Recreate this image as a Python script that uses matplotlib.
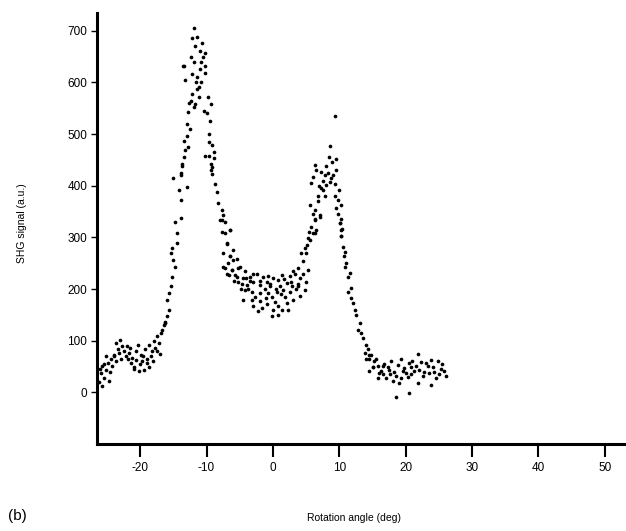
import numpy as np
import matplotlib
matplotlib.use('Agg')
import matplotlib.pyplot as plt

plt.rcParams['font.family'] = ['Liberation Sans', 'DejaVu Sans']
plt.rcParams['axes.unicode_minus'] = False

# left baseline, -26 .. -16 deg
base_left_x = [-25.9, -25.7, -25.4, -24.9, -25.2, -24.7, -24.4, -24.2, -23.9, -23.7,
               -23.4, -23.2, -22.7, -23.0, -22.4, -22.2, -21.9, -21.7, -21.4, -21.2,
               -20.9, -20.7, -20.4, -20.2, -19.9, -19.7, -19.4, -19.2, -18.9, -18.7,
               -18.4, -18.2, -17.9, -17.7, -17.4, -17.2, -16.9, -16.7, -16.4, -16.2,
               -25.7, -26.2, -25.2, -26.0, -24.5, -22.0, -21.0, -20.0, -19.0, -18.0,
               -17.0, -23.6, -22.9, -20.6, -18.6, -24.0, -21.5, -19.5, -17.5, -25.5]
base_left_y = [38, 51, 28, 57, 44, 22, 64, 51, 73, 60,
               83, 76, 89, 102, 80, 70, 64, 76, 57, 67,
               48, 80, 92, 41, 73, 60, 44, 83, 57, 92,
               70, 80, 99, 86, 109, 96, 115, 121, 131, 137,
               12, 19, 70, 45, 40, 90, 45, 55, 65, 60,
               75, 95, 65, 62, 48, 70, 85, 70, 80, 55]

# first peak, -16 .. -8 deg
peak1_x = [-16.2, -15.9, -15.9, -15.7, -15.4, -15.2, -14.7, -15.0, -15.4, -15.2,
           -14.4, -14.7, -13.9, -13.9, -14.2, -12.9, -15.0, -13.9, -13.7,
           -11.9, -12.2, -11.5, -11.7, -10.7, -10.3, -10.5, -11.9, -13.4, -11.0,
           -10.2, -10.2, -12.2, -13.2, -11.4, -10.8, -11.2, -11.4, -12.2, -11.2,
           -9.8, -12.3, -11.7, -9.4, -11.9, -10.4, -12.8, -9.9, -9.5, -12.5,
           -12.9, -13.4, -12.8, -9.7, -9.2, -8.9, -10.2, -9.7, -8.9, -13.4,
           -13.7, -9.2, -13.2, -12.9, -9.6, -9.3, -13.8, -12.6, -11.6, -11.0,
           -12.4, -10.8, -13.5, -14.5, -15.6]
peak1_y = [135, 147, 179, 192, 205, 224, 243, 256, 269, 279,
           308, 330, 337, 372, 391, 398, 414, 420, 443,
           706, 687, 688, 670, 677, 658, 649, 639, 632, 627,
           632, 619, 616, 605, 610, 600, 591, 587, 577, 572,
           572, 565, 558, 559, 552, 545, 542, 540, 526, 510,
           497, 487, 475, 484, 478, 465, 457, 458, 454, 455,
           439, 437, 470, 520, 500, 430, 425, 560, 600, 660,
           650, 640, 632, 290, 160]

# valley between the peaks, -9.5 .. 7 deg
valley_x = [-9.4, -9.2, -8.7, -8.4, -8.2, -7.7, -7.9, -7.2, -7.7, -6.4,
            -6.9, -6.0, -6.4, -7.5, -6.2, -5.4, -6.6,
            -7.7, -7.2, -6.45, -6.95, -7.45, -6.45, -5.95, -6.7, -5.45, -7.2,
            -6.2, -4.95, -4.2, -5.7, -6.95, -4.45, -5.2, -3.45, -2.95, -3.95,
            -2.45, -1.45, -1.95, -0.95, -0.45, 0.05, 0.8, 1.3, 2.05, 2.8,
            3.3, 4.05, 3.8, 2.55, 1.55, 0.55, -0.7, -1.95, -3.2, -4.2,
            -3.2, -1.95, -4.45, -2.95, -0.95, 0.05, 1.3, 2.05, -0.2, 0.8,
            3.05, 4.05, 4.8, 5.05, 4.55, 5.3, 4.3, 4.8, 5.55, 6.05,
            6.55, 6.3, 7.05, -7.45,
            -5.2, -4.7, -3.7, -2.7, -1.2, -0.2, 0.3, 1.0, 1.8, 2.5,
            3.5, -2.2, -1.6, 0.7, 2.3, -3.5, -0.7, 1.6, 3.0, -4.8,
            -5.9, -3.0, -0.4, 1.2, 2.9, -2.0, 0.4, -1.0, 3.8, -4.0]
valley_y = [443, 423, 404, 388, 366, 353, 333, 330, 311, 314,
            289, 276, 263, 243, 237, 224, 227,
            333, 308, 314, 288, 269, 263, 256, 250, 259, 240,
            237, 243, 234, 227, 230, 221, 214, 224, 214, 208,
            230, 224, 208, 214, 205, 221, 218, 227, 211, 214,
            230, 221, 205, 195, 198, 195, 192, 192, 195, 198,
            179, 176, 179, 167, 170, 160, 160, 173, 147, 167,
            179, 186, 198, 214, 230, 237, 269, 279, 295, 308,
            314, 333, 343, 343,
            240, 210, 200, 185, 200, 185, 175, 205, 185, 225,
            200, 158, 163, 150, 160, 215, 225, 220, 235, 200,
            215, 230, 210, 190, 205, 215, 200, 182, 210, 222]

# second peak, 5 .. 16 deg
peak2_x = [9.4, 8.65, 9.55, 8.9, 8.05, 6.4, 6.55, 7.3, 9.55, 6.05,
           7.8, 5.8, 8.55, 8.05, 9.3, 7.55, 6.8, 9.95, 9.3, 9.8,
           10.3, 5.55, 6.3, 9.55, 7.05, 6.3, 10.3, 10.05, 10.45, 5.45,
           6.3, 10.3, 5.3,
           10.05, 10.3, 10.3, 10.55, 10.8, 10.65, 11.05, 10.8, 11.55, 11.3,
           11.8, 11.3, 11.8, 12.05, 12.3, 12.55, 13.05, 12.8, 13.3, 13.55,
           14.05, 14.3, 13.8, 14.8, 14.55, 15.3, 15.8, 15.05, 16.3, 14.55,
           16.55,
           3.8, 4.5, 5.0, 5.2, 5.8, 6.0, 6.8, 7.2, 7.5, 8.3,
           8.8, 7.9, 6.9, 8.5, 9.1, 9.8]
peak2_y = [536, 476, 452, 446, 439, 441, 430, 426, 430, 417,
           420, 405, 407, 401, 404, 391, 381, 392, 381, 372,
           362, 362, 353, 356, 340, 335, 335, 327, 317, 311,
           308, 303, 298,
           327, 314, 302, 282, 272, 263, 250, 243, 231, 224,
           202, 195, 182, 173, 160, 150, 134, 121, 115, 105,
           92, 83, 76, 73, 64, 60, 51, 48, 41, 41,
           35,
           240, 255, 270, 285, 320, 345, 370, 395, 410, 425,
           415, 380, 400, 455, 420, 345]

# right baseline, 14 .. 26 deg
base_right_x = [21.9, 14.55, 14.05, 15.55, 16.55, 15.05, 17.55, 16.05, 19.3, 20.55,
                21.55, 23.05, 24.05, 25.55, 26.05, 25.05, 23.55, 22.05, 20.05, 18.55,
                18.05, 19.05, 21.8, 23.8, 20.45, 18.55, 19.55, 20.8, 22.55, 24.55,
                17.05, 15.8,
                16.8, 17.3, 17.8, 18.3, 18.8, 19.8, 20.3, 21.3, 22.3, 22.8,
                23.3, 24.3, 24.8, 25.3, 25.8, 17.6, 19.3, 21.0, 23.8, 20.8]
base_right_y = [75, 73, 64, 64, 51, 48, 44, 38, 64, 57,
                51, 57, 48, 54, 31, 35, 38, 44, 38, 31,
                22, 18, 18, 15, -1, -10, 41, 35, 31, 28,
                28, 28,
                55, 48, 60, 40, 52, 47, 30, 42, 58, 40,
                50, 40, 60, 45, 42, 35, 28, 60, 62, 48]

angle = np.concatenate([base_left_x, peak1_x, valley_x, peak2_x, base_right_x])
signal = np.concatenate([base_left_y, peak1_y, valley_y, peak2_y, base_right_y])

fig = plt.figure(figsize=(6.26, 5.31), dpi=100)
ax = fig.add_axes([0.155, 0.164, 0.845, 0.812])

ax.scatter(angle, signal, s=7, color='black', linewidths=0)

ax.set_xlim(-26.5, 53.2)
ax.set_ylim(-100, 735)
ax.set_xticks([-20, -10, 0, 10, 20, 30, 40, 50])
ax.set_yticks([0, 100, 200, 300, 400, 500, 600, 700])

for s in ['top', 'right']:
    ax.spines[s].set_visible(False)
ax.spines['left'].set_linewidth(2.2)
ax.spines['bottom'].set_linewidth(2.2)

ax.tick_params(axis='x', length=9, width=1.5, direction='out', labelsize=8.5, pad=4)
ax.tick_params(axis='y', length=4, width=1, direction='out', labelsize=8.5, pad=3)

fig.text(0.565, 0.025, 'Rotation angle (deg)', ha='center', va='center', fontsize=7.5)
fig.text(0.035, 0.58, 'SHG signal (a.u.)', ha='center', va='center', rotation=90, fontsize=7.5)
fig.text(0.012, 0.028, '(b)', ha='left', va='center', fontsize=11)

fig.savefig('out.png', dpi=100)
